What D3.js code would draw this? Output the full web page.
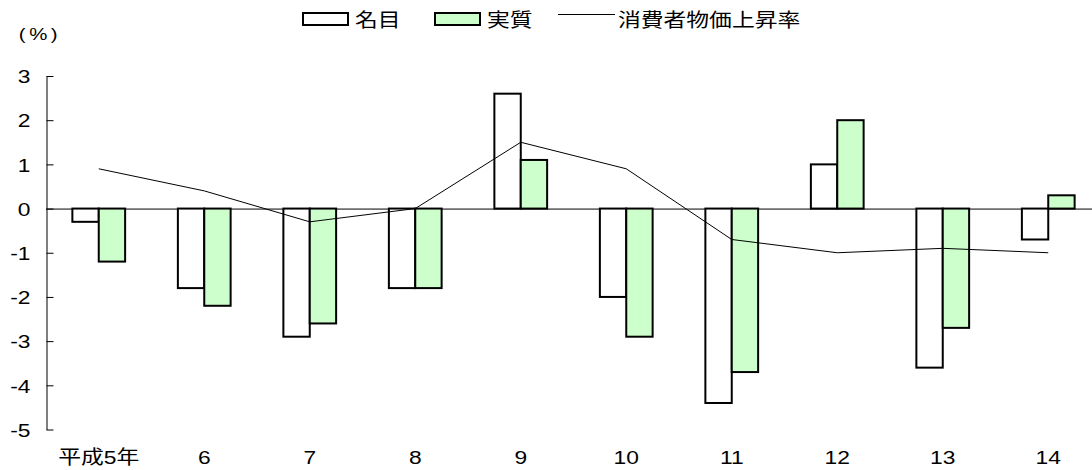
<!DOCTYPE html>
<html>
<head>
<meta charset="utf-8">
<script src="https://cdn.jsdelivr.net/npm/d3@7"></script>
<style>
  html, body { margin: 0; padding: 0; background: #fff; }
  svg { display: block; }
  text { font-family: "Liberation Sans", Arial, "Noto Sans CJK JP", sans-serif; fill: #000; }
</style>
</head>
<body>
<svg id="chart" width="1092" height="470"></svg>
<script>
const categories = ["平成5年", "6", "7", "8", "9", "10", "11", "12", "13", "14"];
const nominal = [-0.3, -1.8, -2.9, -1.8, 2.6, -2.0, -4.4, 1.0, -3.6, -0.7];
const real = [-1.2, -2.2, -2.6, -1.8, 1.1, -2.9, -3.7, 2.0, -2.7, 0.3];
const cpi = [0.9, 0.4, -0.3, 0.0, 1.5, 0.9, -0.7, -1.0, -0.9, -1.0];
const yTicks = [-5, -4, -3, -2, -1, 0, 1, 2, 3];
const seriesNames = ["名目", "実質", "消費者物価上昇率"];
const unitLabel = "(%)";

const svg = d3.select("#chart");
const FS = 19, SX = 1.2;
const GREEN = "#ccffcc";

const x = d3.scaleBand().domain(categories).range([46, 1101]).paddingInner(0).paddingOuter(0);
const y = d3.scaleLinear().domain([-5, 3]).range([429.5, 76]);
const barW = x.bandwidth() / 4; // each bar = quarter of band
const cx = c => x(c) + x.bandwidth() / 2;

// y axis
const yAxis = d3.axisLeft(y).tickValues(yTicks).tickSize(-7).tickSizeOuter(0).tickPadding(16)
  .tickFormat(d => String(d));
const gy = svg.append("g").attr("transform", "translate(46.5,0)").call(yAxis);
gy.select(".domain").attr("stroke", "#000").attr("stroke-width", 1);
gy.selectAll(".tick line").attr("stroke", "#000").attr("stroke-width", 1);
gy.selectAll(".tick text")
  .attr("x", null).attr("dy", null)
  .attr("font-size", FS)
  .attr("font-family", null)
  .attr("dominant-baseline", "central")
  .attr("transform", "translate(-16,0) scale(" + SX + ",1)");

// unit label
svg.append("text").attr("transform", "translate(40,40) scale(" + SX + ",1)")
  .attr("text-anchor", "middle").attr("font-size", 17).attr("letter-spacing", 3).text(unitLabel);

// x labels
const xAxis = d3.axisBottom(x).tickSize(0).tickPadding(0);
const gx = svg.append("g").attr("transform", "translate(0,464)").call(xAxis);
gx.select(".domain").remove();
gx.selectAll(".tick text")
  .attr("y", null).attr("dy", null)
  .attr("font-size", FS).attr("font-family", null)
  .attr("transform", "scale(" + SX + ",1)");

// zero line
svg.append("line").attr("x1", 46).attr("x2", 1092).attr("y1", y(0) + 0.5).attr("y2", y(0) + 0.5)
  .attr("stroke", "#000").attr("stroke-width", 1);

// bars
const gb = svg.append("g");
gb.selectAll("rect.nom").data(nominal).enter().append("rect")
  .attr("x", (d, i) => cx(categories[i]) - barW)
  .attr("width", barW)
  .attr("y", d => y(Math.max(0, d)))
  .attr("height", d => Math.abs(y(d) - y(0)))
  .attr("fill", "#fff").attr("stroke", "#000").attr("stroke-width", 2);
gb.selectAll("rect.real").data(real).enter().append("rect")
  .attr("x", (d, i) => cx(categories[i]))
  .attr("width", barW)
  .attr("y", d => y(Math.max(0, d)))
  .attr("height", d => Math.abs(y(d) - y(0)))
  .attr("fill", GREEN).attr("stroke", "#000").attr("stroke-width", 2);

// cpi line
const line = d3.line().x((d, i) => cx(categories[i])).y(d => y(d));
svg.append("path").datum(cpi).attr("d", line).attr("fill", "none").attr("stroke", "#000").attr("stroke-width", 1);

// legend
const lg = svg.append("g");
lg.append("rect").attr("x", 303).attr("y", 13).attr("width", 45).attr("height", 12)
  .attr("fill", "#fff").attr("stroke", "#000").attr("stroke-width", 2);
lg.append("text").attr("transform", "translate(355,20) scale(" + SX + ",1)").attr("font-size", FS)
  .attr("dominant-baseline", "central").text(seriesNames[0]);
lg.append("rect").attr("x", 435).attr("y", 13).attr("width", 45).attr("height", 12)
  .attr("fill", GREEN).attr("stroke", "#000").attr("stroke-width", 2);
lg.append("text").attr("transform", "translate(487,20) scale(" + SX + ",1)").attr("font-size", FS)
  .attr("dominant-baseline", "central").text(seriesNames[1]);
lg.append("line").attr("x1", 558).attr("x2", 615).attr("y1", 14.5).attr("y2", 14.5)
  .attr("stroke", "#000").attr("stroke-width", 1);
lg.append("text").attr("transform", "translate(618,20) scale(" + SX + ",1)").attr("font-size", FS)
  .attr("dominant-baseline", "central").text(seriesNames[2]);
</script>
</body>
</html>
